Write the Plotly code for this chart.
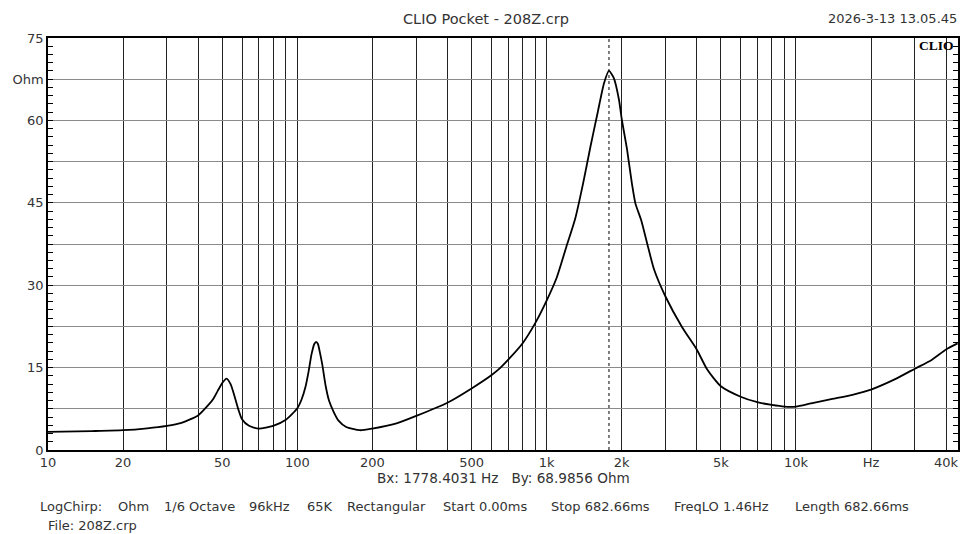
import plotly.graph_objects as go

# ---- data ----
freq_hz = [10, 15, 20, 25, 30, 34, 40, 44, 46, 48, 50, 52, 54, 56, 58, 60, 64, 70, 80, 90,
           100, 104, 108, 111, 114, 117, 119, 121, 123, 126, 130, 134, 140, 146, 157, 178,
           200, 250, 300, 400, 500, 600, 650, 700, 800, 900, 1000, 1100, 1200, 1300, 1400,
           1500, 1600, 1700, 1778, 1860, 1950, 2000, 2100, 2200, 2270, 2400, 2550, 2700,
           3000, 3500, 4000, 4400, 5000, 6000, 7000, 8000, 9000, 10000, 11500, 14000, 17000,
           20000, 25000, 30000, 35000, 40000, 44500]
impedance_ohm = [3.3, 3.45, 3.6, 3.95, 4.4, 4.9, 6.3, 8.2, 9.3, 10.8, 12.2, 13.0, 12.0, 9.8,
                 7.4, 5.6, 4.4, 3.9, 4.4, 5.5,
                 7.6, 9.2, 11.6, 14.3, 17.4, 19.3, 19.7, 19.3, 17.9, 15.5, 11.6, 9.0, 6.9, 5.4,
                 4.2, 3.6,
                 3.9, 4.85, 6.2, 8.6, 11.2, 13.6, 14.9, 16.4, 19.4, 23.1, 27.2, 31.5, 37.0,
                 42.0, 48.5,
                 55.3, 61.3, 66.8, 69.0, 67.7, 63.8, 60.3, 54.8, 48.4, 44.9, 41.7, 37.0, 32.8,
                 27.9, 22.3, 18.3, 14.7, 11.6, 9.7, 8.7, 8.2, 7.9, 7.9, 8.5, 9.3, 10.1,
                 11.0, 12.9, 14.8, 16.4, 18.3, 19.4]

cursor_hz = 1778.4031
cursor_ohm = 68.9856

x_label_map = {10: "10", 20: "20", 50: "50", 100: "100", 200: "200", 500: "500",
               1000: "1k", 2000: "2k", 5000: "5k", 10000: "10k", 20000: "Hz", 40000: "40k"}
x_grid_vals = [m * d for d in (10, 100, 1000, 10000) for m in range(1, 10) if m * d <= 40000]
x_grid_text = [x_label_map.get(v, "") for v in x_grid_vals]

y_tick_vals = [0, 7.5, 15, 22.5, 30, 37.5, 45, 52.5, 60, 67.5, 75]
y_tick_text = ["0", "", "15", "", "30", "", "45", "", "60", "Ohm", "75"]

title_text = "CLIO Pocket - 208Z.crp"
date_text = "2026-3-13 13.05.45"
cursor_text = "Bx: 1778.4031 Hz   By: 68.9856 Ohm"
info_items = ["LogChirp:", "Ohm", "1/6 Octave", "96kHz", "65K", "Rectangular",
              "Start 0.00ms", "Stop 682.66ms", "FreqLO 1.46Hz", "Length 682.66ms"]
file_text = "File: 208Z.crp"

# ---- figure ----
W, H = 964, 534
L, R, T, B = 48, 960, 38, 450
FONT = "DejaVu Sans, Verdana, sans-serif"
TXT = "#333333"

def px(xp):
    return (xp - L) / (R - L)

def py(yp):
    return (B - yp) / (B - T)

fig = go.Figure()
fig.add_trace(go.Scatter(
    x=freq_hz, y=impedance_ohm, mode="lines",
    line=dict(color="black", width=1.8, shape="spline", smoothing=0.6),
    hoverinfo="x+y", showlegend=False))

fig.add_shape(type="line", xref="x", yref="y", x0=cursor_hz, x1=cursor_hz, y0=0, y1=75,
              line=dict(color="black", width=1, dash="dot"), layer="above")

fig.update_layout(
    width=W, height=H,
    margin=dict(l=L, r=W - R, t=T, b=H - B),
    paper_bgcolor="white", plot_bgcolor="white",
    font=dict(family=FONT, size=13, color=TXT),
    xaxis=dict(type="log", range=[1, 4.65], tickmode="array", tickvals=x_grid_vals,
               ticktext=x_grid_text, showgrid=True, gridcolor="#222222", gridwidth=1,
               showline=True, linecolor="black", linewidth=1.5, mirror=True,
               ticks="", zeroline=False, tickfont=dict(family=FONT, size=13, color=TXT)),
    yaxis=dict(range=[0, 75], tickmode="array", tickvals=y_tick_vals, ticktext=y_tick_text,
               showgrid=True, gridcolor="#8a8a8a", gridwidth=1,
               showline=True, linecolor="black", linewidth=1.5, mirror="allticks",
               ticks="inside", ticklen=5, tickcolor="black",
               minor=dict(tickmode="linear", tick0=0, dtick=1.5, ticks="inside",
                          ticklen=5, tickcolor="black", showgrid=False),
               zeroline=False, tickfont=dict(family=FONT, size=13, color=TXT)),
)

ann = [
    dict(text=title_text, x=px(487), y=py(19), xanchor="center", size=14.5),
    dict(text=date_text, x=px(961), y=py(19), xanchor="right", size=13),
    dict(text=cursor_text, x=px(505), y=py(478), xanchor="center", size=13.6),
    dict(text=file_text, x=px(46), y=py(525), xanchor="left", size=13),
]
info_x = [39, 117, 163, 248, 307, 347, 443, 551, 674, 796]
for t, xp in zip(info_items, info_x):
    ann.append(dict(text=t, x=px(xp - 1), y=py(506), xanchor="left", size=13))

for a in ann:
    size = a.pop("size")
    fig.add_annotation(xref="paper", yref="paper", showarrow=False, yanchor="middle",
                       font=dict(family=FONT, size=size, color=TXT), **a)

fig.add_annotation(xref="paper", yref="paper", x=px(958), y=py(45), xanchor="right",
                   yanchor="middle", showarrow=False, text="<b>CLIO</b>",
                   font=dict(family="Liberation Serif, DejaVu Serif, serif", size=13.5,
                             color="black"))

fig.write_html("out.html", config={"displayModeBar": False},
               post_script="document.body.style.margin='0';document.body.style.overflow='hidden';")
